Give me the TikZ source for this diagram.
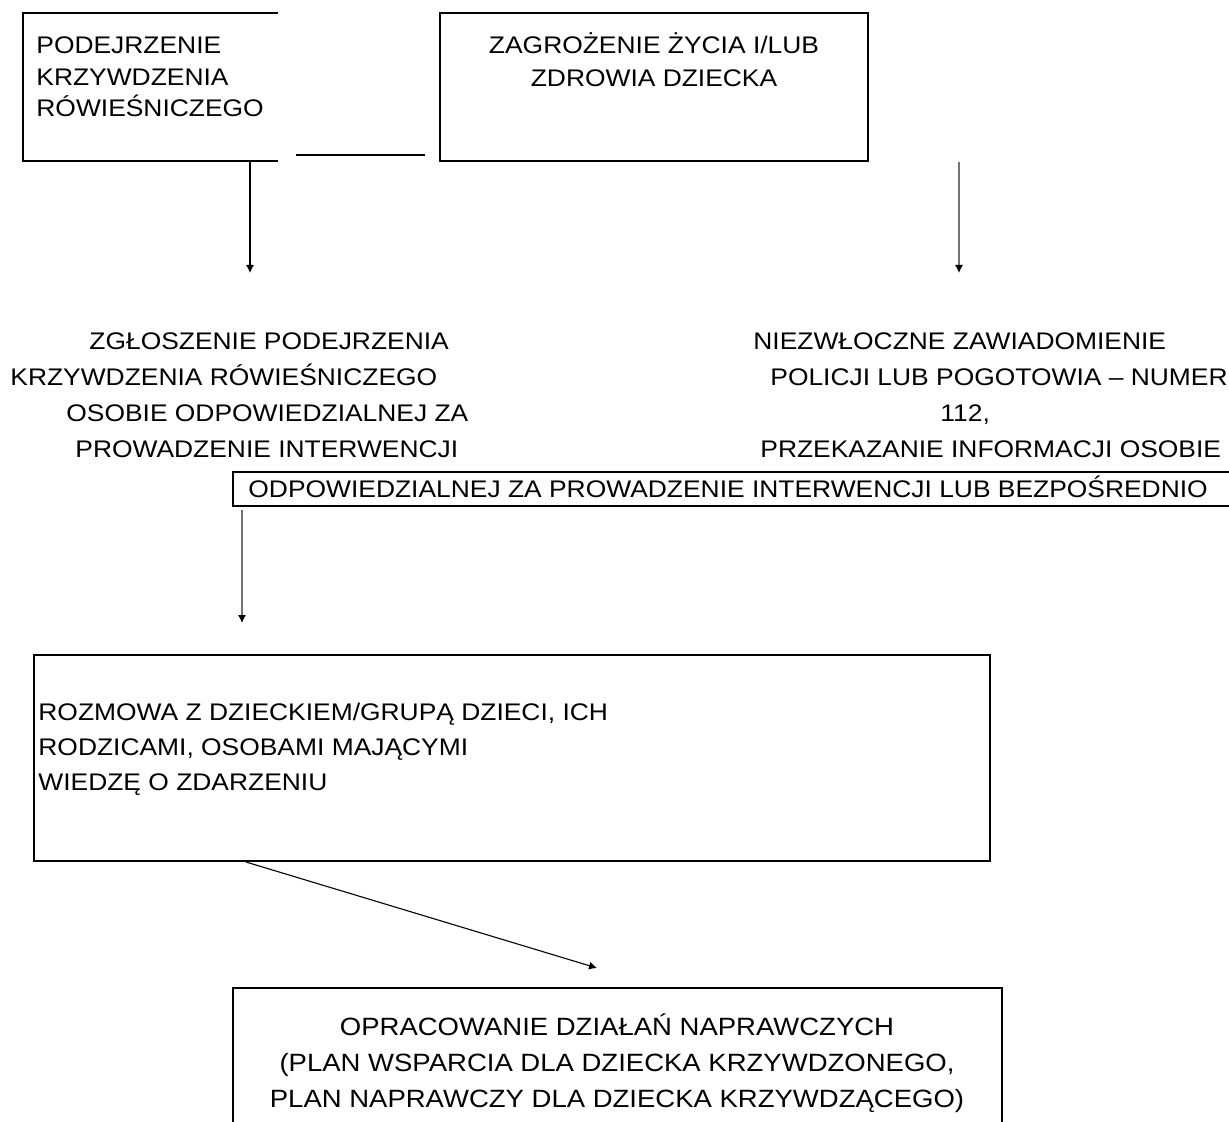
\documentclass[tikz,border=0pt]{standalone}
\usepackage{fontspec}
\setmainfont[FakeStretch=1.1]{Liberation Sans}
\usetikzlibrary{arrows.meta,positioning}
\tikzset{
    frame/.style={draw,line width=1pt},
    txt/.style={inner sep=0pt,font=\fontsize{12}{16}\selectfont},
    row/.style={anchor=base west,inner sep=0pt,font=\fontsize{12}{16}\selectfont},
    arrow/.style={-{Latex[length=4pt,width=4pt,black]},line width=0.55pt}
}

\begin{document}
\begin{tikzpicture}[x=0.5pt,y=-0.5pt]
    \useasboundingbox (0,0) rectangle (1229,1122);
    % top boxes
    \draw[frame] (278,13) -- (23,13) -- (23,161) -- (278,161);
    \draw[frame] (296,155) -- (425,155);
    \draw[frame] (440,13) rectangle (868,161);
    \node[txt,align=left,anchor=west,font=\fontsize{12}{15.75}\selectfont] (susp) at (36,77) {PODEJRZENIE\\KRZYWDZENIA\\RÓWIEŚNICZEGO};
    \node[txt,align=center,font=\fontsize{12}{16.5}\selectfont] (threat) at (654,60) {ZAGROŻENIE ŻYCIA I/LUB\\ZDROWIA DZIECKA};
    % arrows down
    \coordinate (s1) at (250,161);
    \coordinate (e1) at (250,273);
    \coordinate (s2) at (959,162);
    \coordinate (e2) at (959,273);
    \draw[arrow] (s1) -- (e1);
    \draw[arrow,black!55] (s2) -- (e2);
    % middle texts
    \node[row] (rep1) at (89,350) {ZGŁOSZENIE PODEJRZENIA};
    \node[row] (rep2) at (10,386) {KRZYWDZENIA RÓWIEŚNICZEGO};
    \node[row] (rep3) at (66,422) {OSOBIE ODPOWIEDZIALNEJ ZA};
    \node[row] (rep4) at (75,457) {PROWADZENIE INTERWENCJI};
    \node[row] (pol1) at (753,350) {NIEZWŁOCZNE ZAWIADOMIENIE};
    \node[row] (pol2) at (770,386) {POLICJI LUB POGOTOWIA – NUMER};
    \node[row] (pol3) at (940,422) {112,};
    \node[row] (pol4) at (760,457) {PRZEKAZANIE INFORMACJI OSOBIE};
    \draw[frame] (1229,472) -- (233,472) -- (233,506) -- (1229,506);
    \node[row] (pol5) at (248,497) {ODPOWIEDZIALNEJ ZA PROWADZENIE INTERWENCJI LUB BEZPOŚREDNIO};
    % talk
    \coordinate (s3) at (242,510);
    \coordinate (e3) at (242,623);
    \draw[arrow,black!55] (s3) -- (e3);
    \draw[frame] (34,655) rectangle (990,861);
    \node[txt,align=left,anchor=west,font=\fontsize{12}{17.5}\selectfont] (talk) at (38,749) {ROZMOWA Z DZIECKIEM/GRUPĄ DZIECI, ICH\\RODZICAMI, OSOBAMI MAJĄCYMI\\WIEDZĘ O ZDARZENIU};
    % plan
    \coordinate (s4) at (246,862);
    \coordinate (e4) at (597,968);
    \draw[arrow] (s4) -- (e4);
    \draw[frame] (233,1122) -- (233,988) -- (1002,988) -- (1002,1122);
    \node[txt,align=center,font=\fontsize{12.5}{18}\selectfont] (plan) at (617,1063) {OPRACOWANIE DZIAŁAŃ NAPRAWCZYCH\\(PLAN WSPARCIA DLA DZIECKA KRZYWDZONEGO,\\PLAN NAPRAWCZY DLA DZIECKA KRZYWDZĄCEGO)};
\end{tikzpicture}
\end{document}
